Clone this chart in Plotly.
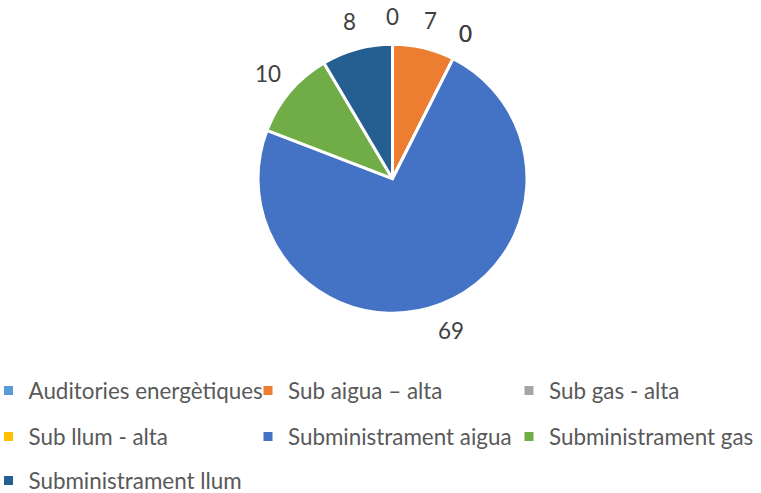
import math
import plotly.graph_objects as go

labels = ["Auditories energètiques", "Sub aigua – alta", "Sub gas - alta", "Sub llum - alta",
          "Subministrament aigua", "Subministrament gas", "Subministrament llum"]
values = [0, 7, 0, 0, 69, 10, 8]
colors = ["#5B9BD5", "#ED7D31", "#A5A5A5", "#FFC000", "#4472C4", "#70AD47", "#255E91"]

W, H = 761, 493
FONT = "Lato"
LABEL_TXT = "#404040"
LEGEND_TXT = "#595959"
FS = 22.4

cx, cy, r = 392.5, 178.7, 134.5

fig = go.Figure()
fig.add_trace(go.Pie(
    labels=labels, values=values, sort=False, direction="clockwise", rotation=0,
    marker=dict(colors=colors, line=dict(color="white", width=3)),
    textinfo="none", showlegend=False, hoverinfo="label+value",
    domain=dict(x=[(cx - r) / W, (cx + r) / W], y=[1 - (cy + r) / H, 1 - (cy - r) / H]),
))

# data labels, placed outside each slice at its mid angle
total = sum(values)
cum = 0
for v in values:
    a = math.radians((cum + v / 2) / total * 360)
    d = r + 28
    fig.add_annotation(
        x=(cx + d * math.sin(a)) / W, y=1 - (cy - d * math.cos(a)) / H,
        xref="paper", yref="paper", xanchor="center", yanchor="middle",
        text=str(v), showarrow=False,
        font=dict(family=FONT, size=FS, color=LABEL_TXT),
    )
    cum += v

# legend: one entry per category, laid out in 3 columns
text_x = [28.5, 288, 549]
row_y = [391, 437, 481]
for i, (lab, col) in enumerate(zip(labels, colors)):
    lname = "legend" if i == 0 else f"legend{i+1}"
    fig.add_trace(go.Scatter(
        x=[None], y=[None], mode="markers", name=lab,
        marker=dict(symbol="square", size=9, color=col),
        legend=lname, showlegend=True, hoverinfo="skip",
    ))
    fig.update_layout({lname: dict(
        x=(text_x[i % 3] - 40) / W, y=1 - row_y[i // 3] / H, xanchor="left", yanchor="middle",
        font=dict(family=FONT, size=FS, color=LEGEND_TXT), bgcolor="rgba(0,0,0,0)",
        itemwidth=30,
    )})

fig.update_layout(
    width=W, height=H, margin=dict(l=0, r=0, t=0, b=0, autoexpand=False),
    paper_bgcolor="white", plot_bgcolor="white",
    xaxis=dict(visible=False), yaxis=dict(visible=False),
)
fig.write_html("out.html", config={"displayModeBar": False},
               post_script="document.body.style.margin='0';")
